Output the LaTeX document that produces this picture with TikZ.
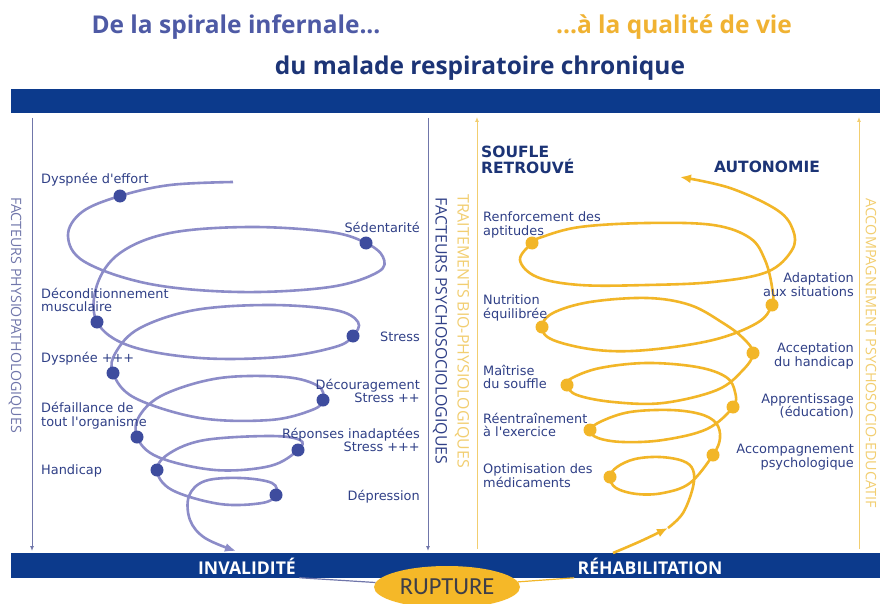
\documentclass[tikz,border=0pt]{standalone}
\usepackage{fontspec}
\usepackage{xcolor}
\setmainfont{DejaVu Sans}
\newfontfamily\barfont{Open Sans}
\newfontfamily\ruptfont{Carlito}
\usepackage{tikz}
\usetikzlibrary{shapes, arrows, arrows.meta, positioning, calc}

\definecolor{navybar}{RGB}{12,58,140}
\definecolor{titleblue}{RGB}{78,90,165}
\definecolor{titleorange}{RGB}{240,178,50}
\definecolor{darkblue}{RGB}{28,52,118}
\definecolor{labblue}{RGB}{48,64,135}
\definecolor{lavender}{RGB}{140,140,200}
\definecolor{dotblue}{RGB}{62,76,158}
\definecolor{axisblue}{RGB}{112,118,170}
\definecolor{spiralorange}{RGB}{242,182,40}
\definecolor{paleorange}{RGB}{242,206,112}
\definecolor{ruptfill}{RGB}{245,184,40}
\definecolor{rupttext}{RGB}{62,62,72}

\begin{document}
\begin{tikzpicture}[x=1pt, y=-1pt,
  lab/.style={font=\fontsize{12.9}{13.8}\selectfont, text=labblue, inner sep=0pt},
  llab/.style={lab, anchor=west, align=left},
  rlab/.style={lab, anchor=east, align=right},
  ldot/.style={circle, fill=dotblue, inner sep=0pt, minimum size=13pt},
  odot/.style={circle, fill=spiralorange, inner sep=0pt, minimum size=13pt},
  lspiral/.style={draw=lavender, line width=2.6pt},
  ospiral/.style={draw=spiralorange, line width=2.6pt},
  vtext/.style={font=\barfont\fontsize{#1}{#1}\selectfont, rotate=-90, inner sep=0pt},
  titre/.style={font=\barfont\bfseries\fontsize{24.5}{24.5}\selectfont},
  bartext/.style={font=\barfont\bfseries\fontsize{17.6}{17.6}\selectfont, text=white},
  axis/.style={line width=1pt, -{Latex[length=5pt,width=4pt]}},
  bigtip/.style={-{Latex[length=11pt,width=9pt]}}]
\clip (0,0) rectangle (885,604);
\fill[white] (0,0) rectangle (885,604);

% Titles
\node[titre, text=titleblue] (t1) at (236,27) {De la spirale infernale...};
\node[titre, text=titleorange] (t2) at (674,27) {...à la qualité de vie};
\node[titre, text=darkblue] (t3) at (480,68) {du malade respiratoire chronique};

% Bars
\fill[navybar] (11,89) rectangle (880,113);
\fill[navybar] (11,553) rectangle (880,578);
\node[bartext] (inval) at (247,566) {INVALIDITÉ};
\node[bartext] (rehab) at (650,566) {RÉHABILITATION};

% Rupture
\node[ellipse, fill=ruptfill, minimum width=146pt, minimum height=42pt, font=\ruptfont\fontsize{24.5}{24.5}\selectfont, text=rupttext] (rupt) at (447,587) {RUPTURE};
\draw[axisblue, line width=1.2pt] (inval.south east) -- (rupt);
\draw[spiralorange, line width=1.2pt] (rupt) -- (rehab.south west);

% Axes
\coordinate (a1top) at (32,118);  \coordinate (a1bot) at (32,551);
\coordinate (a2top) at (428,118); \coordinate (a2bot) at (428,551);
\coordinate (a3bot) at (477,549); \coordinate (a3top) at (477,117);
\coordinate (a4bot) at (859,549); \coordinate (a4top) at (859,117);
\draw[axis, axisblue] (a1top) -- (a1bot);
\draw[axis, axisblue] (a2top) -- (a2bot);
\draw[axis, paleorange] (a3bot) -- (a3top);
\draw[axis, paleorange] (a4bot) -- (a4top);

\node[vtext=14.2, text=axisblue] (physio) at (15,315) {FACTEURS PHYSIOPATHOLOGIQUES};
\node[vtext=15.9, text=labblue] (psycho) at (440,331) {FACTEURS PSYCHOSOCIOLOGIQUES};
\node[vtext=15.9, text=paleorange] (traite) at (462,331) {TRAITEMENTS BIO-PHYSIOLOGIQUES};
\node[vtext=14.4, text=paleorange] (accomp) at (871,353) {ACCOMPAGNEMENT PSYCHOSOCIO-EDUCATIF};

% Spirale infernale
\coordinate (dyspeff) at (120,196);
\coordinate (sedent) at (366,243);
\coordinate (decond) at (97,322);
\coordinate (stress) at (353,336);
\coordinate (dysppp) at (113,373);
\coordinate (decour) at (323,400);
\coordinate (defail) at (137,437);
\coordinate (repons) at (298,450);
\coordinate (handi) at (157,470);
\coordinate (depres) at (276,495);
\draw[lspiral, bigtip] plot[smooth, tension=0.6] coordinates {
  (233,182) (170,185) (dyspeff) (82,212) (68,236) (85,262) (150,284) (240,292)
  (330,287) (378,272) (383,257) (sedent) (330,232) (250,227) (170,233) (120,253)
  (97,285) (decond) (130,346) (200,358) (280,357) (335,347) (stress) (358,322)
  (335,310) (270,305) (195,310) (140,328) (116,352) (dysppp) (135,398) (200,418)
  (270,420) (312,410) (decour) (318,386) (285,377) (220,378) (165,394) (140,415)
  (defail) (158,457) (215,470) (270,466) (repons) (300,440) (270,436) (205,440)
  (170,453) (handi) (172,490) (220,504) (262,503) (depres) (272,483) (240,478)
  (205,481) (189,496) (190,520) (205,538) (236,551)};
\foreach \p in {dyspeff,sedent,decond,stress,dysppp,decour,defail,repons,handi,depres}
  \node[ldot] (n\p) at (\p) {};

\node[llab] (ldyspeff) at (41,180) {Dyspnée d\textquotesingle effort};
\node[rlab] (lsedent) at (420,227) {Sédentarité};
\node[llab] (ldecond) at (41,300) {Déconditionnement\\musculaire};
\node[rlab] (lstress) at (420,337) {Stress};
\node[llab] (ldysppp) at (41,359) {Dyspnée +++};
\node[rlab] (ldecour) at (420,391) {Découragement\\Stress ++};
\node[llab] (ldefail) at (41,416) {Défaillance de\\tout l\textquotesingle organisme};
\node[rlab] (lrepons) at (420,440) {Réponses inadaptées\\Stress +++};
\node[llab] (lhandi) at (41,471) {Handicap};
\node[rlab] (ldepres) at (420,497) {Dépression};

% Qualite de vie
\coordinate (ostart) at (613,553);
\coordinate (omid) at (668,528);
\coordinate (optim) at (610,477);
\coordinate (accpsy) at (713,455);
\coordinate (reent) at (590,430);
\coordinate (appren) at (733,407);
\coordinate (maitr) at (567,385);
\coordinate (accept) at (753,353);
\coordinate (nutri) at (542,327);
\coordinate (adapt) at (772,305);
\coordinate (renfo) at (532,243);
\draw[ospiral, bigtip] plot[smooth, tension=0.6] coordinates {(ostart) (641,541) (omid)};
\draw[ospiral, bigtip] plot[smooth, tension=0.6] coordinates {
  (omid) (683,513) (693,487) (693,470) (683,461) (660,457) (635,459) (617,467)
  (optim) (616,488) (637,494) (663,493) (690,483) (accpsy) (720,438) (716,423)
  (700,414) (670,410) (630,412) (602,421) (reent) (598,438) (623,442) (663,440)
  (707,429) (appren) (735,392) (726,377) (697,367) (647,363) (600,368) (572,378)
  (maitr) (577,395) (613,402) (663,403) (717,390) (743,370) (accept) (743,338)
  (723,323) (690,305) (647,298) (590,302) (553,313) (nutri) (553,340) (597,350)
  (647,350) (713,340) (757,323) (adapt) (772,287) (765,260) (750,238) (713,225)
  (647,223) (580,227) (542,237) (renfo) (520,260) (537,277) (580,285) (647,285)
  (713,282) (767,272) (792,250) (793,230) (777,210) (730,188) (680,177)};
\foreach \p in {optim,accpsy,reent,appren,maitr,accept,nutri,adapt,renfo}
  \node[odot] (n\p) at (\p) {};

\node[llab] (lrenfo) at (483,225) {Renforcement des\\aptitudes};
\node[llab] (lnutri) at (483,308) {Nutrition\\équilibrée};
\node[llab] (lmaitr) at (483,377) {Maîtrise\\du souffle};
\node[llab] (lreent) at (483,425) {Réentraînement\\à l\textquotesingle exercice};
\node[llab] (loptim) at (483,476) {Optimisation des\\médicaments};
\node[rlab] (ladapt) at (854,285) {Adaptation\\aux situations};
\node[rlab] (laccept) at (854,356) {Acceptation\\du handicap};
\node[rlab] (lappren) at (854,406) {Apprentissage\\(éducation)};
\node[rlab] (laccpsy) at (854,457) {Accompagnement\\psychologique};

\node[font=\bfseries\fontsize{15.5}{15.5}\selectfont, text=darkblue, anchor=west, align=left, inner sep=0pt] (souffle) at (481,160) {SOUFLE\\RETROUVÉ};
\node[font=\bfseries\fontsize{15.5}{15.5}\selectfont, text=darkblue, inner sep=0pt] (autono) at (767,167) {AUTONOMIE};
\end{tikzpicture}
\end{document}
